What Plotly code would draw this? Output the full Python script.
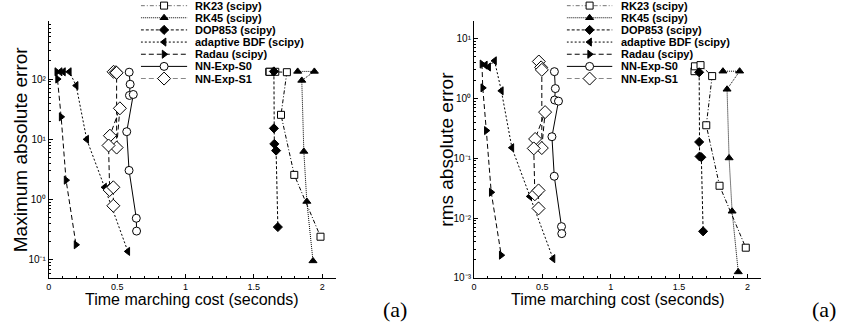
import plotly.graph_objects as go

W, H = 841, 334

# ---------------- data ----------------
series_names = ["RK23 (scipy)", "RK45 (scipy)", "DOP853 (scipy)",
                "adaptive BDF (scipy)", "Radau (scipy)", "NN-Exp-S0", "NN-Exp-S1"]

rk23_cost = [1.613, 1.616, 1.657, 1.742, 1.699, 1.796, 1.988]
rk23_max = [132, 132, 132, 130, 25.5, 2.57, 0.242]
rk23_rms = [2.85, 3.44, 3.6, 2.36, 0.356, 0.0347, 0.0032]

rk45_cost = [1.821, 1.943, 1.851, 1.866, 1.888, 1.933]
rk45_max = [134, 134, 95, 6.3, 0.93, 0.096]
rk45_rms = [2.85, 2.85, 1.42, 0.101, 0.013, 0.00126]

dop853_cost = [1.647, 1.647, 1.650, 1.663, 1.676]
dop853_max = [134, 15.2, 8.4, 6.5, 0.35]
dop853_rms = [2.73, 0.187, 0.107, 0.104, 0.006]

bdf_cost = [0.083, 0.107, 0.15, 0.2, 0.277, 0.408, 0.578]
bdf_max = [132, 132, 132, 78, 10, 1.6, 0.138]
bdf_rms = [3.6, 3.35, 4.25, 1.34, 0.15, 0.023, 0.0021]

radau_cost = [0.058, 0.064, 0.09, 0.126, 0.199]
radau_max = [132, 100, 23.6, 2.1, 0.178]
radau_rms = [3.75, 1.5, 0.29, 0.027, 0.0024]

s0_cost = [0.588, 0.595, 0.590, 0.618, 0.570, 0.587, 0.640, 0.642]
s0_max = [130, 82, 53.5, 55.5, 13.4, 3.05, 0.49, 0.30]
s0_rms = [2.8, 1.46, 0.94, 0.90, 0.229, 0.05, 0.0072, 0.0055]

s1_cost = [0.474, 0.491, 0.496, 0.496, 0.52, 0.447, 0.437, 0.445, 0.472, 0.472]
s1_max = [132, 130, 127, 7.3, 32.7, 11.5, 7.9, 1.44, 1.6, 0.79]
s1_rms = [4.14, 3.3, 3.0, 0.148, 0.59, 0.21, 0.146, 0.025, 0.029, 0.0145]

x_tickvals = [0, 0.5, 1, 1.5, 2]
x_ticktext = ["0", "0.5", "1", "1.5", "2"]
left_y_tickvals = [0.1, 1, 10, 100]
left_y_ticktext = ["10⁻¹", "10⁰", "10¹", "10²"]
right_y_tickvals = [0.001, 0.01, 0.1, 1, 10]
right_y_ticktext = ["10⁻³", "10⁻²", "10⁻¹", "10⁰", "10¹"]

x_title = "Time marching cost (seconds)"
left_y_title = "Maximum absolute error"
right_y_title = "rms absolute error"
panel_label = "(a)"

# ---------------- styles ----------------
styles = {
    "RK23 (scipy)": dict(symbol="square", open=True, dash="4px,2px,1px,2px", size=7),
    "RK45 (scipy)": dict(symbol="triangle-up", open=False, dash="1px,1px", size=7),
    "DOP853 (scipy)": dict(symbol="diamond", open=False, dash="3px,2px", size=7),
    "adaptive BDF (scipy)": dict(symbol="triangle-left", open=False, dash="2px,2px", size=7),
    "Radau (scipy)": dict(symbol="triangle-right", open=False, dash="5px,3px", size=7),
    "NN-Exp-S0": dict(symbol="circle", open=True, dash="solid", size=8),
    "NN-Exp-S1": dict(symbol="diamond", open=True, dash="5px,3px", size=10),
}

left_data = {
    "RK23 (scipy)": (rk23_cost, rk23_max),
    "RK45 (scipy)": (rk45_cost, rk45_max),
    "DOP853 (scipy)": (dop853_cost, dop853_max),
    "adaptive BDF (scipy)": (bdf_cost, bdf_max),
    "Radau (scipy)": (radau_cost, radau_max),
    "NN-Exp-S0": (s0_cost, s0_max),
    "NN-Exp-S1": (s1_cost, s1_max),
}
right_data = {
    "RK23 (scipy)": (rk23_cost, rk23_rms),
    "RK45 (scipy)": (rk45_cost, rk45_rms),
    "DOP853 (scipy)": (dop853_cost, dop853_rms),
    "adaptive BDF (scipy)": (bdf_cost, bdf_rms),
    "Radau (scipy)": (radau_cost, radau_rms),
    "NN-Exp-S0": (s0_cost, s0_rms),
    "NN-Exp-S1": (s1_cost, s1_rms),
}


def marker_for(name, opacity=None):
    st = styles[name]
    m = dict(symbol=st["symbol"], size=st["size"],
             color="white" if st["open"] else "black",
             line=dict(color="black", width=1))
    if opacity is not None:
        m["opacity"] = opacity
    return m


fig = go.Figure()

for xa, ya, data in (("x", "y", left_data), ("x2", "y2", right_data)):
    for name in series_names:
        cx, cy = data[name]
        st = styles[name]
        fig.add_trace(go.Scatter(
            x=cx, y=cy, mode="lines+markers", xaxis=xa, yaxis=ya,
            line=dict(color="black", width=1, dash=st["dash"]),
            marker=marker_for(name), showlegend=False, cliponaxis=False,
            hoverinfo="skip"))

# custom compact legends (one per panel) on auxiliary axes
annotations = []
for xa, ya in (("x3", "y3"), ("x4", "y4")):
    for i, name in enumerate(series_names):
        st = styles[name]
        fig.add_trace(go.Scatter(
            x=[0, 0.5, 1], y=[i, i, i], mode="lines+markers", xaxis=xa, yaxis=ya,
            line=dict(color="black", width=1, dash=st["dash"]),
            marker=marker_for(name, opacity=[0, 1, 0]),
            showlegend=False, cliponaxis=False, hoverinfo="skip"))
        annotations.append(dict(
            xref=xa, yref=ya, x=1, y=i, text=name, showarrow=False,
            xanchor="left", yanchor="middle", xshift=6,
            font=dict(family="Liberation Sans", size=11, color="black", weight="bold")))

# geometry (pixels -> paper)
def px_x(p):
    return p / W


def px_y(p):
    return 1 - p / H


plot_top, plot_bot = 21, 283
left_x0, left_x1 = 46, 334
right_x0, right_x1 = 472.7, 760.8

axis_common = dict(showline=True, linecolor="black", linewidth=1, showgrid=False,
                   zeroline=False, ticks="inside", tickcolor="black", ticklen=4,
                   mirror=False)

def x_axis(domain, anchor):
    return dict(axis_common, domain=domain, anchor=anchor, range=[0, 2.1],
                tickmode="array", tickvals=x_tickvals, ticktext=x_ticktext,
                ticklabelstandoff=0,
                tickfont=dict(family="Liberation Sans", size=9, color="black"),
                minor=dict(ticks="inside", ticklen=2, tickcolor="black", dtick=0.1, tick0=0))


def y_axis(domain, anchor, tv, tt, rng):
    lo, hi = int(round(rng[0])) - 1, int(round(rng[1])) + 1
    minor_vals = [m * 10.0 ** e for e in range(lo, hi + 1) for m in range(2, 10)]
    return dict(axis_common, domain=domain, anchor=anchor, type="log", range=rng,
                tickmode="array", tickvals=tv, ticktext=tt,
                tickfont=dict(family="Liberation Sans", size=10, color="black"),
                minor=dict(ticks="inside", ticklen=2, tickcolor="black",
                           tickmode="array", tickvals=minor_vals))

ydom = [px_y(plot_bot), px_y(plot_top)]
leg_ydom = [px_y(80), px_y(5.7)]
hidden = dict(visible=False, showgrid=False, zeroline=False, showticklabels=False,
              ticks="", fixedrange=True)

fig.update_layout(
    width=W, height=H, margin=dict(l=0, r=0, t=0, b=0),
    paper_bgcolor="white", plot_bgcolor="rgba(0,0,0,0)", showlegend=False,
    xaxis=x_axis([px_x(left_x0), px_x(left_x1)], "y"),
    yaxis=y_axis(ydom, "x", left_y_tickvals, left_y_ticktext, [-1.3, 2.97]),
    xaxis2=x_axis([px_x(right_x0), px_x(right_x1)], "y2"),
    yaxis2=y_axis(ydom, "x2", right_y_tickvals, right_y_ticktext, [-3, 1.3]),
    xaxis3=dict(hidden, domain=[px_x(138.3), px_x(185)], anchor="y3", range=[0, 1]),
    yaxis3=dict(hidden, domain=leg_ydom, anchor="x3", range=[6, 0]),
    xaxis4=dict(hidden, domain=[px_x(565.7), px_x(611.7)], anchor="y4", range=[0, 1]),
    yaxis4=dict(hidden, domain=leg_ydom, anchor="x4", range=[6, 0]),
    font=dict(family="Liberation Sans", color="black"),
)

title_font = dict(family="Liberation Sans", size=16, color="black")
ytitle_font = dict(family="Liberation Sans", size=19, color="black")
label_font = dict(family="Liberation Serif", size=22, color="black")
ymid = px_y((plot_top + plot_bot) / 2)

annotations += [
    dict(xref="paper", yref="paper", x=px_x((left_x0 + left_x1) / 2), y=px_y(305),
         text=x_title, showarrow=False, font=title_font, xanchor="center", yanchor="middle",
         borderpad=0),
    dict(xref="paper", yref="paper", x=px_x((right_x0 + right_x1) / 2), y=px_y(305),
         text=x_title, showarrow=False, font=title_font, xanchor="center", yanchor="middle",
         borderpad=0),
    dict(xref="paper", yref="paper", x=px_x(17), y=ymid, text=left_y_title, textangle=-90,
         showarrow=False, font=ytitle_font, xanchor="center", yanchor="middle"),
    dict(xref="paper", yref="paper", x=px_x(445), y=ymid, text=right_y_title, textangle=-90,
         showarrow=False, font=ytitle_font, xanchor="center", yanchor="middle"),
    dict(xref="paper", yref="paper", x=px_x(393), y=px_y(315), text=panel_label,
         showarrow=False, font=label_font, xanchor="center", yanchor="middle"),
    dict(xref="paper", yref="paper", x=px_x(824), y=px_y(315), text=panel_label,
         showarrow=False, font=label_font, xanchor="center", yanchor="middle"),
]
fig.update_layout(annotations=annotations)

fig.write_html("out.html", config={"displayModeBar": False, "staticPlot": True},
               post_script="document.body.style.margin='0';document.body.style.padding='0';")
